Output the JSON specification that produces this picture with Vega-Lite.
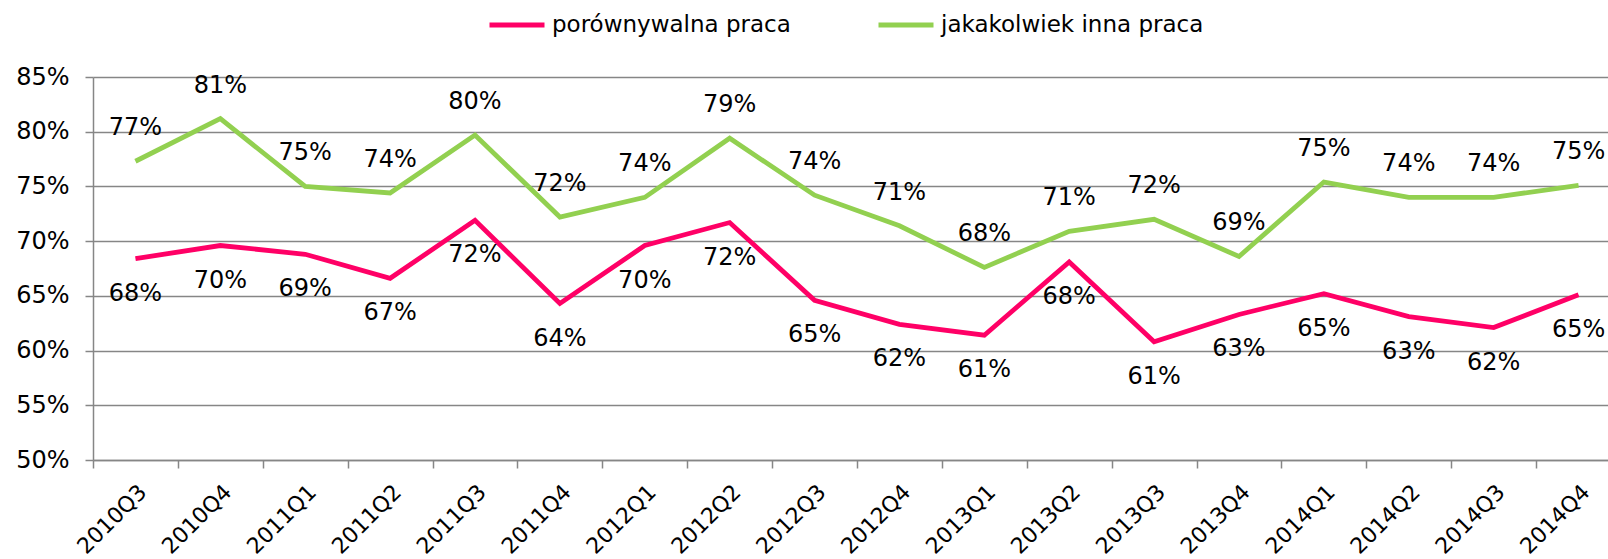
{
  "$schema": "https://vega.github.io/schema/vega-lite/v6.json",
  "width": 1515,
  "height": 383,
  "autosize": {"type": "none"},
  "padding": {"left": 93, "top": 77, "right": 0, "bottom": 99},
  "background": "white",
  "config": {"view": {"stroke": null}, "font": "DejaVu Sans"},
  "data": {
    "values": [
      {"kwartal": "2010Q3", "seria": "porównywalna praca", "wartosc": 0.684},
      {"kwartal": "2010Q4", "seria": "porównywalna praca", "wartosc": 0.696},
      {"kwartal": "2011Q1", "seria": "porównywalna praca", "wartosc": 0.688},
      {"kwartal": "2011Q2", "seria": "porównywalna praca", "wartosc": 0.666},
      {"kwartal": "2011Q3", "seria": "porównywalna praca", "wartosc": 0.719},
      {"kwartal": "2011Q4", "seria": "porównywalna praca", "wartosc": 0.643},
      {"kwartal": "2012Q1", "seria": "porównywalna praca", "wartosc": 0.696},
      {"kwartal": "2012Q2", "seria": "porównywalna praca", "wartosc": 0.717},
      {"kwartal": "2012Q3", "seria": "porównywalna praca", "wartosc": 0.646},
      {"kwartal": "2012Q4", "seria": "porównywalna praca", "wartosc": 0.624},
      {"kwartal": "2013Q1", "seria": "porównywalna praca", "wartosc": 0.614},
      {"kwartal": "2013Q2", "seria": "porównywalna praca", "wartosc": 0.681},
      {"kwartal": "2013Q3", "seria": "porównywalna praca", "wartosc": 0.608},
      {"kwartal": "2013Q4", "seria": "porównywalna praca", "wartosc": 0.633},
      {"kwartal": "2014Q1", "seria": "porównywalna praca", "wartosc": 0.652},
      {"kwartal": "2014Q2", "seria": "porównywalna praca", "wartosc": 0.631},
      {"kwartal": "2014Q3", "seria": "porównywalna praca", "wartosc": 0.621},
      {"kwartal": "2014Q4", "seria": "porównywalna praca", "wartosc": 0.651},
      {"kwartal": "2010Q3", "seria": "jakakolwiek inna praca", "wartosc": 0.773},
      {"kwartal": "2010Q4", "seria": "jakakolwiek inna praca", "wartosc": 0.812},
      {"kwartal": "2011Q1", "seria": "jakakolwiek inna praca", "wartosc": 0.750},
      {"kwartal": "2011Q2", "seria": "jakakolwiek inna praca", "wartosc": 0.744},
      {"kwartal": "2011Q3", "seria": "jakakolwiek inna praca", "wartosc": 0.797},
      {"kwartal": "2011Q4", "seria": "jakakolwiek inna praca", "wartosc": 0.722},
      {"kwartal": "2012Q1", "seria": "jakakolwiek inna praca", "wartosc": 0.740},
      {"kwartal": "2012Q2", "seria": "jakakolwiek inna praca", "wartosc": 0.794},
      {"kwartal": "2012Q3", "seria": "jakakolwiek inna praca", "wartosc": 0.742},
      {"kwartal": "2012Q4", "seria": "jakakolwiek inna praca", "wartosc": 0.714},
      {"kwartal": "2013Q1", "seria": "jakakolwiek inna praca", "wartosc": 0.676},
      {"kwartal": "2013Q2", "seria": "jakakolwiek inna praca", "wartosc": 0.709},
      {"kwartal": "2013Q3", "seria": "jakakolwiek inna praca", "wartosc": 0.720},
      {"kwartal": "2013Q4", "seria": "jakakolwiek inna praca", "wartosc": 0.686},
      {"kwartal": "2014Q1", "seria": "jakakolwiek inna praca", "wartosc": 0.754},
      {"kwartal": "2014Q2", "seria": "jakakolwiek inna praca", "wartosc": 0.740},
      {"kwartal": "2014Q3", "seria": "jakakolwiek inna praca", "wartosc": 0.740},
      {"kwartal": "2014Q4", "seria": "jakakolwiek inna praca", "wartosc": 0.751}
    ]
  },
  "encoding": {
    "x": {
      "field": "kwartal",
      "type": "ordinal",
      "sort": null,
      "scale": {"range": [0, 1528], "paddingInner": 0, "paddingOuter": 0},
      "axis": {
        "title": null,
        "labelAngle": -45,
        "labelAlign": "right",
        "labelBaseline": "top",
        "labelPadding": 13,
        "labelFontSize": 22,
        "labelColor": "black",
        "tickBand": "extent",
        "tickSize": 8,
        "tickColor": "#868686",
        "tickWidth": 1.5,
        "domainColor": "#868686",
        "domainWidth": 1.5,
        "grid": false
      }
    },
    "y": {
      "field": "wartosc",
      "type": "quantitative",
      "scale": {"domain": [0.5, 0.85], "nice": false, "zero": false},
      "axis": {
        "title": null,
        "format": ".0%",
        "values": [0.5, 0.55, 0.6, 0.65, 0.7, 0.75, 0.8, 0.85],
        "tickSize": 8,
        "tickColor": "#868686",
        "tickWidth": 1.5,
        "labelPadding": 16,
        "labelFontSize": 24,
        "labelColor": "black",
        "domainColor": "#868686",
        "domainWidth": 1.5,
        "grid": true,
        "gridColor": "#868686",
        "gridWidth": 1.5
      }
    },
    "color": {
      "field": "seria",
      "type": "nominal",
      "scale": {"domain": ["porównywalna praca", "jakakolwiek inna praca"], "range": ["#FF0066", "#92D050"]},
      "legend": {
        "orient": "none",
        "legendX": 394,
        "legendY": -82,
        "direction": "horizontal",
        "title": null,
        "symbolType": "stroke",
        "symbolSize": 3025,
        "symbolStrokeWidth": 5,
        "labelFontSize": 23,
        "labelColor": "black",
        "labelOffset": 5,
        "columnPadding": 77,
        "labelLimit": 400
      }
    }
  },
  "layer": [
    {"mark": {"type": "line", "strokeWidth": 4.8}},
    {
      "transform": [{"filter": "datum.seria == 'jakakolwiek inna praca'"}],
      "mark": {"type": "text", "dy": -33, "fontSize": 24, "baseline": "middle"},
      "encoding": {"text": {"field": "wartosc", "type": "quantitative", "format": ".0%"}, "color": {"value": "black"}}
    },
    {
      "transform": [{"filter": "datum.seria == 'porównywalna praca'"}],
      "mark": {"type": "text", "dy": 35, "fontSize": 24, "baseline": "middle"},
      "encoding": {"text": {"field": "wartosc", "type": "quantitative", "format": ".0%"}, "color": {"value": "black"}}
    }
  ]
}
